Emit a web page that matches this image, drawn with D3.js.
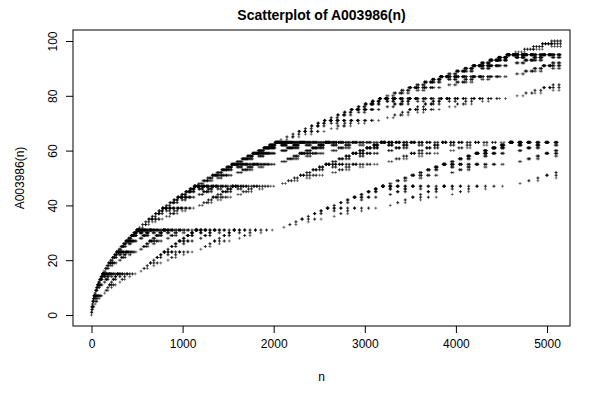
<!DOCTYPE html><html><head><script src="https://cdn.jsdelivr.net/npm/d3@7"></script></head><body style="margin:0;background:#fff">
<script>
// A003986: T(n,k) = n OR k read by antidiagonals (offset 0), terms 0..5150
const nDiagonals = 101;
const values = [];
for (let d = 0; d < nDiagonals; d++) for (let k = 0; k <= d; k++) values.push(k | (d - k));
const xTicks = [0, 1000, 2000, 3000, 4000, 5000];
const yTicks = [0, 20, 40, 60, 80, 100];
const W = 600, H = 400;
const svg = d3.select("body").append("svg").attr("width", W).attr("height", H).style("font-family", "Liberation Sans, Arial, sans-serif");
const x = d3.scaleLinear().domain([0, 5000]).range([91.5, 547]);
const y = d3.scaleLinear().domain([0, 100]).range([315, 41]);
const L = 73, R = 570, T = 30, B = 326;
svg.append("rect").attr("x", L).attr("y", T).attr("width", R - L).attr("height", B - T).attr("fill", "none").attr("stroke", "#000");
const g = svg.append("g");
values.forEach((v, i) => {
  const px = x(i), py = y(v), s = 1.5;
  g.append("path").attr("d", `M${px - s},${py}H${px + s}M${px},${py - s}V${py + s}`).attr("stroke", "#000").attr("stroke-width", 0.5);
});
const xa = svg.append("g").attr("transform", `translate(0,${B})`).call(d3.axisBottom(x).tickValues(xTicks).tickFormat(d3.format("d")).tickSize(7).tickPadding(6));
const ya = svg.append("g").attr("transform", `translate(${L},0)`).call(d3.axisLeft(y).tickValues(yTicks).tickFormat(d3.format("d")).tickSize(7));
[xa, ya].forEach(a => { a.select(".domain").remove(); a.selectAll("text").attr("font-size", 12).attr("fill", "#000").style("font-family", "Liberation Sans, Arial, sans-serif"); });
ya.selectAll(".tick text").each(function(){ d3.select(this).attr("x", null).attr("y", null).attr("text-anchor","middle").attr("transform", `translate(-20,0) rotate(-90)`).attr("dy","0.35em"); });
svg.append("line").attr("x1", x(0)).attr("x2", x(5000)).attr("y1", B).attr("y2", B);
svg.append("text").attr("x", (L + R) / 2).attr("y", 20).attr("text-anchor", "middle").attr("font-weight", "bold").attr("font-size", 14).text("Scatterplot of A003986(n)");
svg.append("text").attr("x", (L + R) / 2).attr("y", 381).attr("text-anchor", "middle").attr("font-size", 12).text("n");
svg.append("text").attr("transform", `translate(24,${(T + B) / 2}) rotate(-90)`).attr("text-anchor", "middle").attr("font-size", 12).text("A003986(n)");
</script></body></html>
